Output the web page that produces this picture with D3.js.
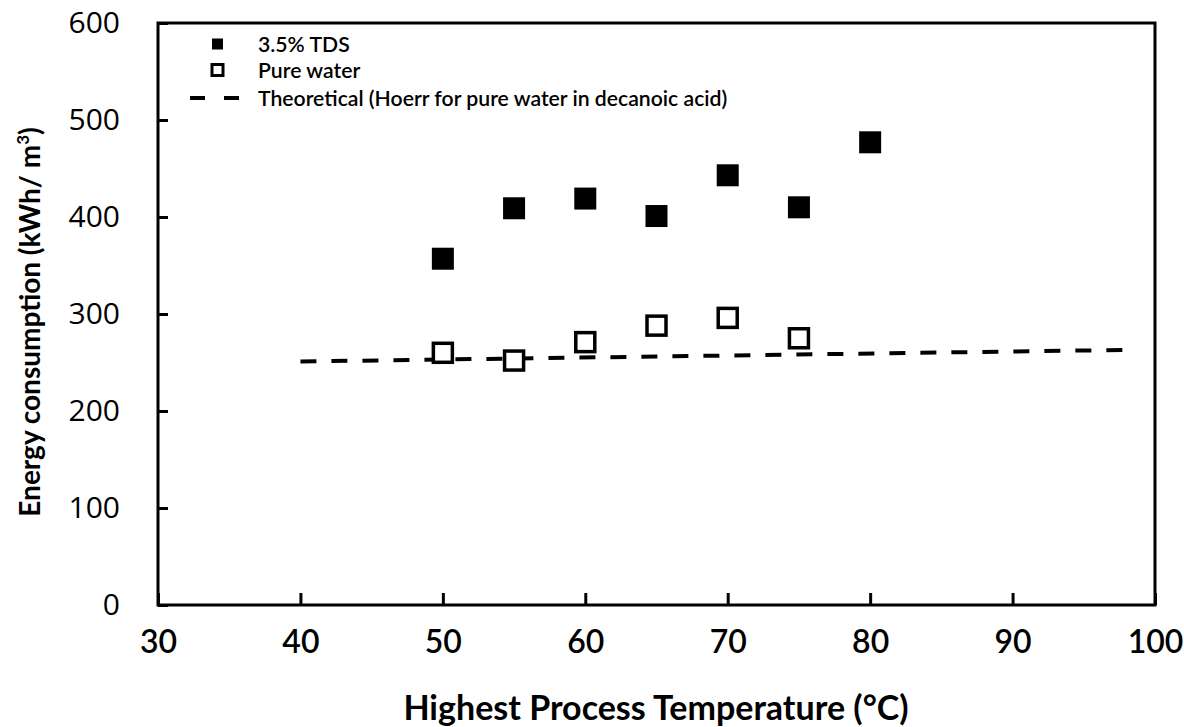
<!DOCTYPE html>
<html>
<head>
<meta charset="utf-8">
<script src="https://cdn.jsdelivr.net/npm/d3@7"></script>
<style>
  body { margin: 0; background: #fff; }
  svg { display: block; }
  .ytick { font-family: 'Open Sans', sans-serif; font-size: 30px; font-weight: 500; }
  .xtick { font-family: Lato, sans-serif; font-size: 32px; font-weight: 600; }
  .axis-title { font-family: Lato, sans-serif; font-weight: bold; }
  .legend { font-family: Lato, sans-serif; font-size: 21.2px; font-weight: 600; }
</style>
</head>
<body>
<div class="chart"></div>
<script>
'use strict';

// data
var temps = [50, 55, 60, 65, 70, 75, 80];
var tds = [357, 409, 419, 401, 443, 410, 477];
var pureTemps = [50, 55, 60, 65, 70, 75];
var pureWater = [260, 252, 271, 288, 296, 275];
var theoryTemps = [40, 98];
var theory = [251, 263];
var xTicks = [30, 40, 50, 60, 70, 80, 90, 100];
var yTicks = [0, 100, 200, 300, 400, 500, 600];
var legendLabels = ['3.5% TDS', 'Pure water', 'Theoretical (Hoerr for pure water in decanoic acid)'];

var width = 1184, height = 727;
var plotLeft = 158, plotRight = 1155, plotTop = 23, plotBottom = 605;

var svg = d3.select('.chart')
  .append('svg')
  .attr('width', width)
  .attr('height', height);

var x = d3.scaleLinear().domain([30, 100]).range([plotLeft, plotRight]);
var y = d3.scaleLinear().domain([0, 600]).range([plotBottom, plotTop]);

// frame
svg.append('rect')
  .attr('x', plotLeft)
  .attr('y', plotTop)
  .attr('width', plotRight - plotLeft)
  .attr('height', plotBottom - plotTop)
  .attr('fill', 'none')
  .attr('stroke', '#000')
  .attr('stroke-width', 3);

// x axis: ticks point inward, labels well below
var xAxis = svg.append('g')
  .attr('transform', 'translate(0,' + plotBottom + ')')
  .call(d3.axisBottom(x).tickValues(xTicks).tickSize(-12).tickPadding(25).tickFormat(d3.format('d')));
xAxis.select('.domain').remove();
xAxis.selectAll('line').attr('stroke-width', 3).attr('stroke', '#000');
xAxis.selectAll('text').attr('class', 'xtick').attr('font-size', null).attr('font-family', null).attr('fill', '#000');

var yAxis = svg.append('g')
  .attr('transform', 'translate(' + plotLeft + ',0)')
  .call(d3.axisLeft(y).tickValues(yTicks).tickSize(-10).tickPadding(38).tickFormat(d3.format('d')));
yAxis.select('.domain').remove();
yAxis.selectAll('line').attr('stroke-width', 3).attr('stroke', '#000');
yAxis.selectAll('text').attr('class', 'ytick').attr('font-size', null).attr('font-family', null).attr('fill', '#000');

// theoretical dashed line
var line = d3.line()
  .x(function (d, i) { return x(theoryTemps[i]); })
  .y(function (d) { return y(d); });
svg.append('path')
  .datum(theory)
  .attr('d', line)
  .attr('fill', 'none')
  .attr('stroke', '#000')
  .attr('stroke-width', 4)
  .attr('stroke-dasharray', '16,15');

// pure water, open squares
var s1 = 19;
svg.selectAll('rect.pure')
  .data(pureWater)
  .enter()
  .append('rect')
  .attr('class', 'pure')
  .attr('x', function (d, i) { return x(pureTemps[i]) - s1 / 2; })
  .attr('y', function (d) { return y(d) - s1 / 2; })
  .attr('width', s1)
  .attr('height', s1)
  .attr('fill', '#fff')
  .attr('stroke', '#000')
  .attr('stroke-width', 3.5);

// 3.5% TDS, filled squares
var s2 = 22;
svg.selectAll('rect.tds')
  .data(tds)
  .enter()
  .append('rect')
  .attr('class', 'tds')
  .attr('x', function (d, i) { return x(temps[i]) - s2 / 2; })
  .attr('y', function (d) { return y(d) - s2 / 2; })
  .attr('width', s2)
  .attr('height', s2)
  .attr('fill', '#000');

// legend
var rows = [44, 70, 98];
svg.append('rect')
  .attr('x', 212).attr('y', rows[0] - 5.5)
  .attr('width', 11).attr('height', 11)
  .attr('fill', '#000');
svg.append('rect')
  .attr('x', 212).attr('y', rows[1] - 5.5)
  .attr('width', 11).attr('height', 11)
  .attr('fill', '#fff').attr('stroke', '#000').attr('stroke-width', 3);
svg.append('line')
  .attr('x1', 190).attr('x2', 248)
  .attr('y1', rows[2]).attr('y2', rows[2])
  .attr('stroke', '#000').attr('stroke-width', 4)
  .attr('stroke-dasharray', '15,19');

svg.selectAll('text.legend')
  .data(legendLabels)
  .enter()
  .append('text')
  .attr('class', 'legend')
  .attr('x', 258)
  .attr('y', function (d, i) { return rows[i]; })
  .attr('dominant-baseline', 'central')
  .text(function (d) { return d; });

// axis titles
svg.append('text')
  .attr('class', 'axis-title')
  .attr('text-anchor', 'middle')
  .attr('x', 656)
  .attr('y', 720)
  .attr('font-size', 34)
  .text('Highest Process Temperature (°C)');

var yt = svg.append('text')
  .attr('class', 'axis-title')
  .attr('text-anchor', 'middle')
  .attr('transform', 'translate(40,' + 322 + ')rotate(-90)')
  .attr('font-size', 28);
yt.append('tspan').text('Energy consumption (kWh/ m');
yt.append('tspan').attr('font-size', 17).attr('dy', -11).text('3');
yt.append('tspan').attr('dy', 11).text(')');
</script>
</body>
</html>
